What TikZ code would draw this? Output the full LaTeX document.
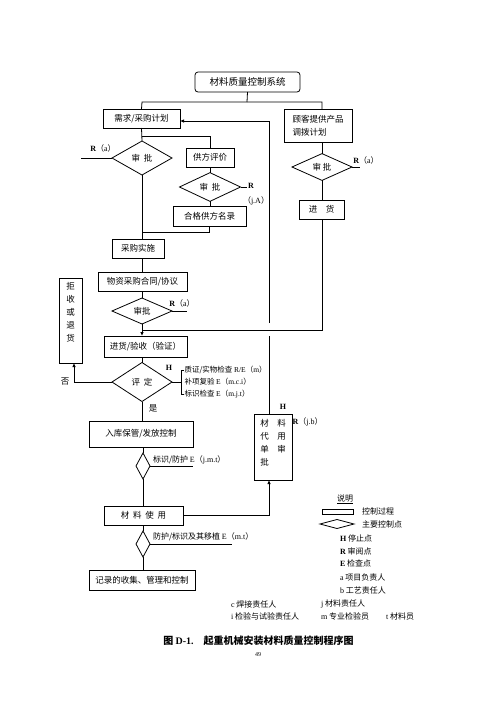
\documentclass[tikz,border=0pt]{standalone}
\usepackage{fontspec}
\setmainfont{Noto Sans CJK SC}
\newfontfamily\latf{Liberation Serif}
\newcommand\latn[1]{{\latf #1}}
\usetikzlibrary{shapes.geometric,arrows.meta}
\begin{document}
\begin{tikzpicture}[x=1pt,y=-1pt,
  every node/.style={inner sep=0pt,outer sep=0pt},
  ln/.style={line width=0.8pt},
  arr/.style={line width=0.8pt,-{Latex[length=4pt,width=3.5pt]}},
  box/.style={draw,line width=0.8pt,font=\fontsize{8.5}{10}\selectfont},
  dia/.style={draw,diamond,line width=0.8pt,font=\fontsize{8.5}{10}\selectfont},
  lab/.style={font=\fontsize{8}{10}\selectfont},
  slab/.style={font=\fontsize{7.5}{9}\selectfont,anchor=west},
  leg/.style={font=\fontsize{8}{10}\selectfont,anchor=west}]
\useasboundingbox[fill=white] (0,0) rectangle (496,702);

% ---- nodes ----
\node[box,rounded corners=3pt,minimum width=105,minimum height=20,font=\fontsize{9.5}{11}\selectfont] (top) at (247.5,82) {材料质量控制系统};
\node[box,minimum width=77,minimum height=19] (need) at (141.5,118.5) {需求/采购计划};
\node[box,minimum width=68,minimum height=33,align=left,font=\fontsize{8.5}{13}\selectfont] (cust) at (318,125.5) {顾客提供产品\\调拨计划};
\node[dia,minimum width=60,minimum height=34] (d1) at (142,158) {审\ \ 批};
\node[box,minimum width=48,minimum height=19] (eval) at (210,157.5) {供方评价};
\node[dia,minimum width=61,minimum height=27] (d2) at (210,187) {审\ \ 批};
\node[box,minimum width=73,minimum height=20] (qual) at (209.5,216) {合格供方名录};
\node[dia,minimum width=60,minimum height=26] (d5) at (322,167) {审\ 批};
\node[box,minimum width=45,minimum height=19] (cgoods) at (321.5,209.5) {进\quad 货};
\node[box,minimum width=52,minimum height=19] (buy) at (138,248.5) {采购实施};
\node[box,minimum width=89,minimum height=19] (contract) at (142.5,281.5) {物资采购合同/协议};
\node[dia,minimum width=60,minimum height=26] (d3) at (142,311) {审批};
\node[box,minimum width=83,minimum height=21] (recv) at (145.5,346.5) {进货/验收（验证）};
\node[dia,minimum width=60,minimum height=39] (d4) at (142,382) {评\ \ 定};
\node[box,minimum width=23,minimum height=85] (reject) at (70.5,320.5) {};
\node[font=\fontsize{8.5}{13.2}\selectfont,align=center,anchor=north] (rejt) at ([yshift=-4pt]reject.north) {拒\\收\\或\\退\\货};
\node[box,minimum width=104,minimum height=26] (store) at (141,434) {入库保管/发放控制};
\node[dia,minimum width=14,minimum height=26] (sd1) at (143,466) {};
\node[box,minimum width=79,minimum height=19] (use) at (143.5,515.5) {材\ \ 料\ \ 使\ \ 用};
\node[dia,minimum width=14,minimum height=26] (sd2) at (143,544) {};
\node[box,minimum width=106,minimum height=20] (record) at (142,580) {记录的收集、管理和控制};
\node[box,minimum width=38,minimum height=66] (sub) at (273,447) {};
\node[font=\fontsize{8.5}{13}\selectfont,align=left,anchor=north] (subt) at ([yshift=-5pt]sub.north) {材　料\\代　用\\单　审\\批\phantom{　审}};

% ---- connectors ----
\coordinate (jt) at (247,102);
\draw[ln] (top.south) -- (jt);
\draw[ln] (need.north) -- (142,102) -- (322,102) -- (322,109);
\draw[ln] (need.south) -- (d1.north);
\draw[ln] (142,136) -| (eval.north);
\draw[ln] (d1.south) -- (d1.south |- buy.north);
\draw[ln] (eval.south) -- (d2.north);
\draw[ln] (d2.south) -- (d2.south |- qual.north);
\draw[ln] (qual.south) -- (209.5,232) -- (142,232);
\coordinate (r1) at (81,158);
\draw[ln] (d1.west) -- (r1);
\node[lab] (r1t) at (103,148) {\latn{\bfseries R}（\latn{a}）};
\coordinate (r2) at (247,187);
\draw[ln] (d2.east) -- (r2);
\node[lab,anchor=west] (r2t) at (248,186) {\latn{\bfseries R}};
\node[lab] (r2u) at (256,201) {（\latn{j.A}）};
\draw[ln] (322,142) -- (d5.north);
\draw[ln] (d5.south) -- (d5.south |- cgoods.north);
\coordinate (r5) at (360,167);
\draw[ln] (d5.east) -- (r5);
\node[lab] (r5t) at (366,160) {\latn{\bfseries R}（\latn{a}）};
\draw[ln] (buy.south -| 142,0) -- (142,272);
\draw[ln] (142,291) -- (d3.north);
\coordinate (r3) at (187,311);
\draw[ln] (d3.east) -- (r3);
\node[lab] (r3t) at (182,303) {\latn{\bfseries R}（\latn{a}）};
\draw[ln] (d3.south) -- (142,330);
\draw[ln] (cgoods.south -| 322,0) -- (322,330) -- (142,330);
\draw[arr] (142,330) -- (142,336);
\draw[ln] (142,357) -- (d4.north);
\draw[arr] (d4.west) -- (74,382) -- (74,363);
\node[lab,font=\fontsize{8.5}{10}\selectfont] (no) at (65,382) {否};
\node[lab] (h1) at (169,368) {\latn{\bfseries H}};
\coordinate (bk) at (181,382);
\draw[ln] (d4.east) -- (bk);
\draw[ln] (184,370) -- (181,370) -- (181,394) -- (184,394);
\node[slab] (q1) at (184.5,370) {质证/实物检查 \latn{R/E}（\latn{m}）};
\node[slab] (q2) at (184.5,382) {补项复验 \latn{E}（\latn{m.c.i}）};
\node[slab] (q3) at (184.5,394) {标识检查 \latn{E}（\latn{m.j.t}）};
\node[lab,font=\fontsize{8.5}{10}\selectfont] (yes) at (153,408) {是};
\draw[ln] (d4.south) -- (d4.south |- store.north);
\draw[ln] (143,447) -- (sd1.north);
\draw[ln] (sd1.south) -- (sd1.south |- use.north);
\coordinate (u1) at (193,466);
\draw[ln] (sd1.east) -- (u1);
\node[slab,font=\fontsize{8}{10}\selectfont] (s1t) at (153,460) {标识/防护 \latn{E}（\latn{j.m.t}）};
\draw[ln] (sd2.north |- use.south) -- (sd2.north);
\draw[ln] (sd2.south) -- (sd2.south |- record.north);
\coordinate (u2) at (232,544);
\draw[ln] (sd2.east) -- (u2);
\node[slab,font=\fontsize{8}{10}\selectfont] (s2t) at (153,537) {防护/标识及其移植 \latn{E}（\latn{m.t}）};
\draw[arr] (use.east) -- (269,515.5) -- (269,480);
\draw[ln] (269,414) -- (269,336);
\draw[arr] (269,323) -- (269,121) -- (180,121);
\node[lab] (h2) at (283,407) {\latn{\bfseries H}};
\node[lab,anchor=west] (rjb) at (292.5,422) {\latn{\bfseries R}（\latn{j.b}）};

% ---- legend ----
\node[leg] (lg0) at (337,499) {\underline{说明}};
\node[draw,line width=0.8pt,minimum width=31,minimum height=5] (lgbox) at (337.5,511.5) {};
\node[leg] (lg1) at (362,511) {控制过程};
\node[draw,diamond,line width=0.8pt,minimum width=34,minimum height=9] (lgdia) at (337,524) {};
\node[leg] (lg2) at (362,524) {主要控制点};
\node[leg] (lg3) at (340,538) {\latn{\bfseries H} 停止点};
\node[leg] (lg4) at (340,551) {\latn{\bfseries R} 审阅点};
\node[leg] (lg5) at (340,563) {\latn{\bfseries E} 检查点};
\node[leg] (lg6) at (340,577) {\latn{a} 项目负责人};
\node[leg] (lg7) at (340,590) {\latn{b} 工艺责任人};
\node[leg] (lg8) at (231,604) {\latn{c}\ 焊接责任人};
\node[leg] (lg9) at (321,604) {\latn{j}\ 材料责任人};
\node[leg] (lg10) at (231,616) {\latn{i}\ 检验与试验责任人};
\node[leg] (lg11) at (321,616) {\latn{m} 专业检验员};
\node[leg] (lg12) at (386,616) {\latn{t} 材料员};

% ---- caption ----
\node[font=\fontsize{10}{12}\selectfont\bfseries] (cap) at (258.5,641) {图 \latn{D-1.}\quad 起重机械安装材料质量控制程序图};
\node[font=\fontsize{6}{7}\selectfont] (pg) at (258,655) {\latn{49}};
\end{tikzpicture}
\end{document}
